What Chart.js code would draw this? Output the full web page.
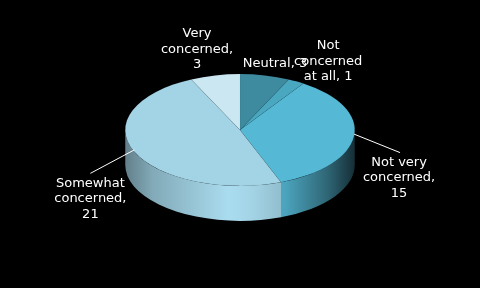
<!DOCTYPE html>
<html>
<head>
<meta charset="utf-8">
<script src="https://cdn.jsdelivr.net/npm/chart.js@4.4.1/dist/chart.umd.min.js"></script>
<style>
  html, body { margin: 0; padding: 0; background: #000; }
  canvas { display: block; }
</style>
</head>
<body>
<canvas id="pieChart" width="480" height="288"></canvas>
<script>
// ── data ─────────────────────────────────────────────
const categories = ['Neutral', 'Not concerned at all', 'Not very concerned', 'Somewhat concerned', 'Very concerned'];
const counts = [3, 1, 15, 21, 3];
const sliceColors = ['#3e8ba0', '#4aa7c0', '#55b9d6', '#a3d4e6', '#cbe8f2'];

// ── 3d look ──────────────────────────────────────────
const TILT = 56 / 115;   // vertical squash of the top face
const DEPTH = 35;        // height of the side wall
// label offsets from the slice's rim point, and whether a leader line is drawn
const labelOffsets = [[10, -12], [32, -20], [45, 42], [-44, 47], [-18, -26]];
const leaders = [false, false, true, true, false];

function shade(hex, f) {
  const n = parseInt(hex.slice(1), 16);
  const c = [(n >> 16) & 255, (n >> 8) & 255, n & 255].map(v => Math.max(0, Math.min(255, Math.round(v * f))));
  return `rgb(${c[0]},${c[1]},${c[2]})`;
}

function wrapText(ctx, text, maxW) {
  const words = text.split(' ');
  const lines = [];
  let cur = '';
  words.forEach(w => {
    const test = cur ? cur + ' ' + w : w;
    if (cur && ctx.measureText(test).width > maxW) {
      lines.push(cur);
      cur = w;
    } else {
      cur = test;
    }
  });
  if (cur) lines.push(cur);
  return lines;
}

const pie3d = {
  id: 'pie3d',
  beforeDatasetsDraw(chart) {
    const ctx = chart.ctx;
    const arcs = chart.getDatasetMeta(0).data;
    if (!arcs.length) return;
    const cx = arcs[0].x, cy = arcs[0].y, rx = arcs[0].outerRadius, ry = rx * TILT;

    // side wall (front half only)
    arcs.forEach((arc, i) => {
      const a1 = Math.max(arc.startAngle, 0);
      const a2 = Math.min(arc.endAngle, Math.PI);
      if (a2 <= a1) return;
      const base = sliceColors[i];
      const g = ctx.createLinearGradient(cx - rx, 0, cx + rx, 0);
      g.addColorStop(0, shade(base, 0.6));
      g.addColorStop(0.12, shade(base, 0.8));
      g.addColorStop(0.45, shade(base, 1.04));
      g.addColorStop(0.55, shade(base, 1.0));
      g.addColorStop(0.7, shade(base, 0.88));
      g.addColorStop(0.88, shade(base, 0.55));
      g.addColorStop(1, shade(base, 0.25));
      ctx.save();
      ctx.beginPath();
      ctx.ellipse(cx, cy, rx, ry, 0, a1, a2);
      ctx.lineTo(cx + rx * Math.cos(a2), cy + DEPTH + ry * Math.sin(a2));
      ctx.ellipse(cx, cy + DEPTH, rx, ry, 0, a2, a1, true);
      ctx.closePath();
      ctx.fillStyle = g;
      ctx.fill();
      ctx.restore();
    });

    // squash the top face
    ctx.save();
    ctx.translate(cx, cy);
    ctx.scale(1, TILT);
    ctx.translate(-cx, -cy);
  },
  afterDatasetsDraw(chart) {
    chart.ctx.restore();
  },
  afterDraw(chart) {
    const ctx = chart.ctx;
    const arcs = chart.getDatasetMeta(0).data;
    const cx = arcs[0].x, cy = arcs[0].y, rx = arcs[0].outerRadius, ry = rx * TILT;
    ctx.save();
    ctx.font = '13px "DejaVu Sans"';
    ctx.fillStyle = '#ffffff';
    ctx.strokeStyle = '#ffffff';
    ctx.lineWidth = 1;
    ctx.textAlign = 'center';
    ctx.textBaseline = 'middle';
    arcs.forEach((arc, i) => {
      const mid = (arc.startAngle + arc.endAngle) / 2;
      const px = cx + rx * Math.cos(mid);
      const py = cy + ry * Math.sin(mid);
      const lx = px + labelOffsets[i][0];
      const ly = py + labelOffsets[i][1];
      const lines = wrapText(ctx, `${categories[i]}, ${counts[i]}`, 80);
      const lh = 15.5;
      const top = ly - (lines.length - 1) * lh / 2;
      if (leaders[i]) {
        ctx.beginPath();
        ctx.moveTo(px, py - 2);
        ctx.lineTo(lx + (i === 2 ? 1 : 0), top - 10);
        ctx.stroke();
      }
      lines.forEach((ln, k) => ctx.fillText(ln, lx, top + k * lh));
    });
    ctx.restore();
  }
};

new Chart(document.getElementById('pieChart'), {
  type: 'pie',
  data: {
    labels: categories,
    datasets: [{
      data: counts,
      backgroundColor: sliceColors,
      borderColor: 'rgba(0,0,0,0.12)',
      borderWidth: 0.5
    }]
  },
  options: {
    responsive: false,
    animation: false,
    events: [],
    layout: { padding: { top: 15, bottom: 43, left: 0, right: 0 } },
    plugins: {
      legend: { display: false },
      tooltip: { enabled: false }
    }
  },
  plugins: [pie3d]
});
</script>
</body>
</html>
